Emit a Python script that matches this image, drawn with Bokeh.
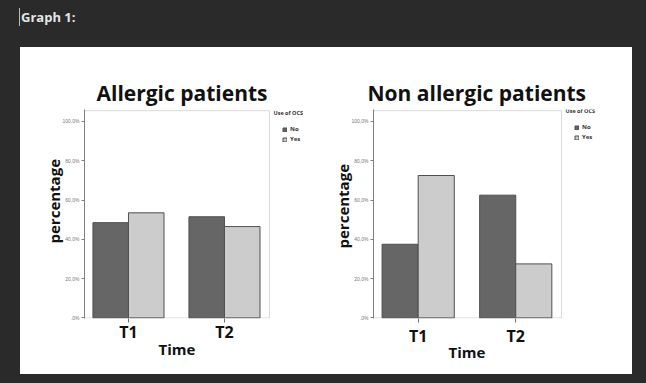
import numpy as np
from bokeh.plotting import figure
from bokeh.models import (FixedTicker, Legend, LegendItem, Div, Range1d, BoxAnnotation, Label, Title)
from bokeh.layouts import column, row
from bokeh.embed import file_html
from bokeh.resources import INLINE

try:
    from bokeh.models import GlobalInlineStyleSheet
    page_css = [GlobalInlineStyleSheet(css="body { background: #2a2a2a; }")]
except Exception:
    page_css = []

# ---- data ----
categories = ["T1", "T2"]
groups = ["No", "Yes"]
allergic_no = [48.5, 51.5]
allergic_yes = [53.5, 46.5]
nonallergic_no = [37.5, 62.5]
nonallergic_yes = [72.5, 27.5]
y_ticks = [0, 20, 40, 60, 80, 100]
y_tick_labels = [".0%", "20,0%", "40,0%", "60,0%", "80,0%", "100,0%"]

DARK = "#666666"
LIGHT = "#cccccc"
EDGE = "#4f4f4f"
FONT = "Open Sans"
Y_TOP = 105.5


def make_chart(title, no_vals, yes_vals, width, height, bl, br, bt, bb, plot_px,
               title_offset, xlab_standoff, time_offset, time_standoff,
               pct_offset, pct_standoff):
    pos = np.arange(1, len(categories) + 1)
    fw = width - bl - br
    fh = height - bt - bb
    x_start = pos[0] - 0.458
    x_plot_end = pos[-1] + 0.469
    x_end = x_start + (x_plot_end - x_start) * fw / plot_px
    p = figure(width=width, height=height, output_backend="svg", toolbar_location=None,
               x_range=Range1d(x_start, x_end),
               y_range=Range1d(-0.3, Y_TOP + 0.6),
               min_border_left=bl, min_border_right=br, min_border_top=bt, min_border_bottom=bb,
               background_fill_color="white", border_fill_color="white",
               styles={"background-color": "white"})
    bw = 0.37
    r_no = p.vbar(x=pos - bw / 2, top=no_vals, width=bw, fill_color=DARK, line_color=EDGE, line_width=1)
    r_yes = p.vbar(x=pos + bw / 2, top=yes_vals, width=bw, fill_color=LIGHT, line_color=EDGE, line_width=1)

    # visible plotting-area border (the frame also holds the legend area)
    p.add_layout(BoxAnnotation(left=x_start, right=x_plot_end, bottom=0, top=Y_TOP,
                               fill_alpha=0, line_color="#808080", line_width=1))

    p.title.text = title
    p.title.text_font = FONT
    p.title.text_font_style = "bold"
    p.title.text_font_size = "21px"
    p.title.text_color = "#111111"
    p.title.align = "left"
    p.title.offset = title_offset
    p.title.standoff = 5

    p.grid.visible = False
    p.outline_line_color = None
    p.outline_line_alpha = 0
    p.outline_line_width = 0

    yax = p.yaxis[0]
    yax.ticker = FixedTicker(ticks=y_ticks)
    yax.major_label_overrides = {t: l for t, l in zip(y_ticks, y_tick_labels)}
    yax.major_label_text_font_size = "5px"
    yax.major_label_text_color = "#777777"
    yax.major_tick_out = 3
    yax.major_tick_in = 0
    yax.minor_tick_line_color = None
    yax.axis_line_color = "#808080"
    yax.major_tick_line_color = "#808080"
    yax.major_label_standoff = 2

    xax = p.xaxis[0]
    xax.ticker = FixedTicker(ticks=list(pos))
    xax.major_label_overrides = {int(v): c for v, c in zip(pos, categories)}
    xax.major_label_text_font = FONT
    xax.major_label_text_font_style = "bold"
    xax.major_label_text_font_size = "16px"
    xax.major_label_text_color = "#111111"
    xax.major_tick_out = 4
    xax.major_tick_in = 0
    xax.minor_tick_line_color = None
    xax.axis_line_color = None
    xax.major_tick_line_color = "#707070"
    xax.major_label_standoff = xlab_standoff

    # axis titles as side-panel titles (positioned along the axis)
    p.add_layout(Title(text="Time", align="left", offset=time_offset, standoff=time_standoff,
                       text_font=FONT, text_font_style="bold", text_font_size="15px",
                       text_color="#111111"), "below")
    p.add_layout(Title(text="percentage", align="left", offset=pct_offset, standoff=pct_standoff,
                       text_font=FONT, text_font_style="bold", text_font_size="15px",
                       text_color="#111111"), "left")

    legend = Legend(items=[LegendItem(label=groups[0], renderers=[r_no]),
                           LegendItem(label=groups[1], renderers=[r_yes])],
                    location=(plot_px + 13, fh - 20 - 14),
                    padding=0, margin=0, spacing=2,
                    glyph_width=5, glyph_height=5, label_height=6,
                    label_standoff=3,
                    label_text_font=FONT, label_text_font_style="bold",
                    label_text_font_size="6px", label_text_color="#333333",
                    background_fill_alpha=0, border_line_alpha=0)
    p.add_layout(legend, "center")
    p.add_layout(Label(x=plot_px + 4, y=fh + 1, x_units="screen", y_units="screen",
                       text="Use of OCS", text_font=FONT, text_font_style="bold",
                       text_font_size="5.5px", text_color="#333333", text_baseline="top"))
    return p


pA = make_chart("Allergic patients", allergic_no, allergic_yes, 300, 327, 64, 4, 62, 56, 185,
                12, -2, 74, -26, 75, -8)
pB = make_chart("Non allergic patients", nonallergic_no, nonallergic_yes, 312, 327, 53, 4, 60, 56, 188,
                -6, 2, 75, -20, 70, -8)
pA.margin = (0, 0, 0, 20)
pB.margin = (0, 0, 0, 0)

header = Div(text='<span style="border-left:1px solid #bbbbbb; padding-left:1px">Graph 1:</span>',
             width=300, height=47, margin=(0, 0, 0, 0),
             styles={"color": "#e6e6e6", "font-family": "Open Sans", "font-weight": "bold",
                     "font-size": "13px", "padding-left": "19px", "padding-top": "8px"},
             stylesheets=page_css)

layout = column(header, row(pA, pB, spacing=0), spacing=0)

open("out.html", "w").write(file_html(layout, INLINE))
